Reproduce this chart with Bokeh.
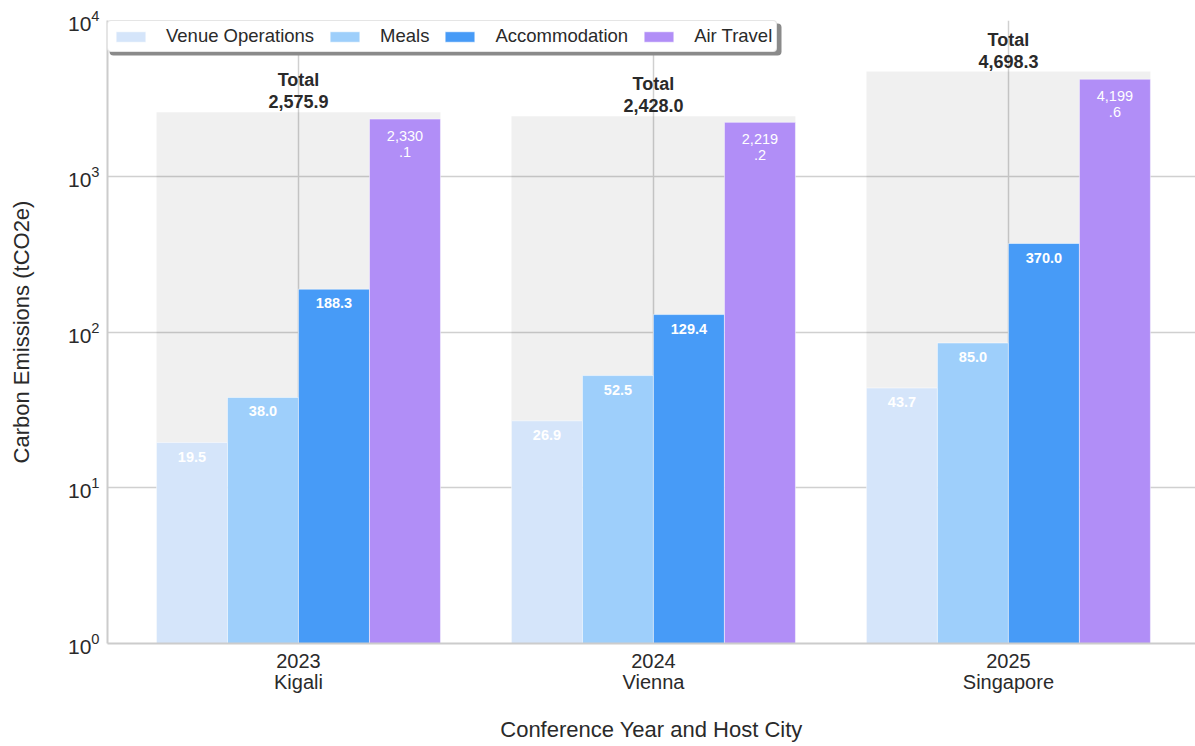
from bokeh.plotting import figure
from bokeh.models import Range1d, FixedTicker, ColumnDataSource, Legend, LegendItem, BoxAnnotation
from bokeh.transform import dodge
from bokeh.core.properties import value, field
from bokeh.embed import file_html
from bokeh.resources import INLINE

# ---- data ----
years = ["2023", "2024", "2025"]
cities = ["Kigali", "Vienna", "Singapore"]
categories = ["Venue Operations", "Meals", "Accommodation", "Air Travel"]
venue_operations = [19.5, 26.9, 43.7]
meals = [38.0, 52.5, 85.0]
accommodation = [188.3, 129.4, 370.0]
air_travel = [2330.1, 2219.2, 4199.6]
colors = ["#d5e5fa", "#9ecffb", "#479bf7", "#b18ef7"]

series = [venue_operations, meals, accommodation, air_travel]
totals = [round(sum(v), 1) for v in zip(*series)]
xs = [i + 0.5 for i in range(len(years))]

FONT = "Liberation Sans"
TXT = "#2a2a2a"

W, H = 1195, 746
ML, MT, MB = 107, 20, 103
FH = H - MT - MB

p = figure(width=W, height=H, y_axis_type="log",
           x_range=Range1d(-0.038, 3.027), y_range=Range1d(1, 10000),
           output_backend="svg", toolbar_location=None,
           min_border_left=ML, min_border_right=0, min_border_top=MT, min_border_bottom=MB)
p.outline_line_color = None
p.background_fill_color = "white"

# total background bars
tot_src = ColumnDataSource(dict(x=xs, total=totals,
                                label=["Total\n{:,.1f}".format(t) for t in totals]))
p.vbar(x="x", top="total", bottom=1, width=0.8, source=tot_src,
       fill_color="black", fill_alpha=0.06, line_color=None)
p.text(x="x", y="total", text="label", source=tot_src, text_align="center",
       text_baseline="bottom", y_offset=0, text_color=TXT, text_font=value(FONT),
       text_font_size="18px", text_font_style="bold", text_line_height=1.1)

offsets = [-0.3, -0.1, 0.1, 0.3]
renderers = []
for cat, vals, col, off in zip(categories, series, colors, offsets):
    labels, styles = [], []
    for v in vals:
        s = "{:,.1f}".format(v)
        if v >= 1000:
            a, b = s.split(".")
            labels.append(a + "\n." + b)
            styles.append("normal")
        else:
            labels.append(s)
            styles.append("bold")
    src = ColumnDataSource(dict(x=xs, top=vals, label=labels, style=styles))
    r = p.vbar(x=dodge("x", off), top="top", bottom=1, width=0.2, source=src,
               fill_color=col, line_color="white", line_alpha=0.5, line_width=1)
    renderers.append(r)
    p.text(x=dodge("x", off), y="top", text="label", source=src, text_align="center",
           text_baseline="top", y_offset=9, text_color="white", text_font=value(FONT),
           text_font_size="14.5px", text_font_style=field("style"), text_line_height=1.0)

# axes
p.xaxis.ticker = FixedTicker(ticks=xs)
p.xaxis.major_label_overrides = {x: f"{y}\n{c}" for x, y, c in zip(xs, years, cities)}
p.yaxis.ticker = FixedTicker(ticks=[1, 10, 100, 1000, 10000])
for ax in (p.xaxis, p.yaxis):
    ax.axis_line_color = "#cccccc"
    ax.axis_line_width = 2
    ax.major_tick_line_color = None
    ax.minor_tick_line_color = None
    ax.major_tick_out = 0
    ax.major_tick_in = 0
    ax.major_label_text_color = TXT
    ax.major_label_text_font = FONT
    ax.axis_label_text_font = FONT
    ax.axis_label_text_color = TXT
    ax.axis_label_text_font_style = "normal"
    ax.axis_label_text_font_size = "22px"
p.xaxis.major_label_text_font_size = "20px"
p.xaxis.major_label_text_line_height = 0.97
p.yaxis.major_label_text_font_size = "21px"
p.xaxis.major_label_standoff = 6
p.yaxis.major_label_standoff = 8
p.xaxis.axis_label = "Conference Year and Host City"
p.yaxis.axis_label = "Carbon Emissions (tCO2e)"
p.xaxis.axis_label_standoff = 21
p.yaxis.axis_label_standoff = 31

p.xgrid.grid_line_color = "#d0d0d0"
p.ygrid.grid_line_color = "#d0d0d0"
p.xgrid.grid_line_width = 1.5
p.ygrid.grid_line_width = 1.5

# legend shadow + legend (shadow in frame-relative screen px, y measured upward)
shadow = BoxAnnotation(left=2, right=674, top=FH - 3, bottom=FH - 35,
                       left_units="screen", right_units="screen",
                       top_units="screen", bottom_units="screen",
                       fill_color="#8a8a8a", fill_alpha=1, line_color=None)
if "border_radius" in BoxAnnotation.properties():
    shadow.border_radius = 4
p.add_layout(shadow)

legend = Legend(items=[LegendItem(label=c, renderers=[r]) for c, r in zip(categories, renderers)],
                orientation="horizontal", location="top_left", margin=0, padding=4,
                spacing=12, glyph_width=37, glyph_height=13, label_standoff=17,
                label_text_font=FONT, label_text_font_size="18.5px", label_text_color=TXT,
                border_line_color="#cccccc", border_line_width=1.5,
                background_fill_color="white", background_fill_alpha=1)
if "border_radius" in Legend.properties():
    legend.border_radius = 4
p.add_layout(legend, "center")

open("out.html", "w").write(file_html(p, INLINE))
